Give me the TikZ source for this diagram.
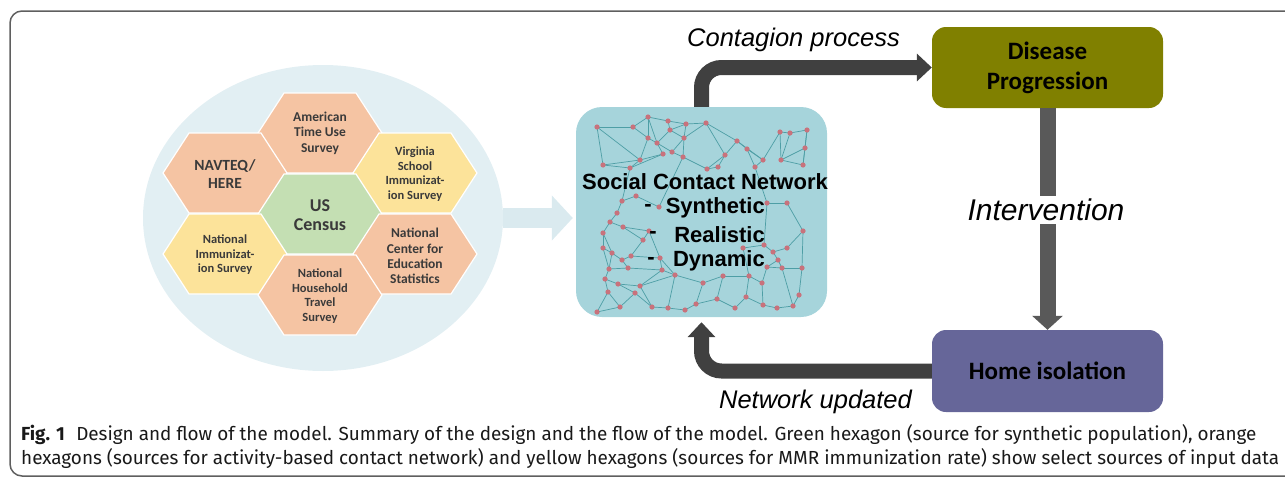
\documentclass[tikz,border=0pt]{standalone}
\usepackage{fontspec}
\setmainfont{Carlito}
\newfontfamily\arialf{Liberation Sans}
\newfontfamily\figcapfont{Fira Sans}
\usetikzlibrary{arrows.meta,shapes.geometric}
\definecolor{framec}{HTML}{5F5F5F}
\definecolor{poolc}{HTML}{E2EFF3}
\definecolor{lightarr}{HTML}{DAEAEF}
\definecolor{hexorange}{HTML}{F5C4A3}
\definecolor{hexyellow}{HTML}{FCE39A}
\definecolor{hexgreen}{HTML}{C4DFB3}
\definecolor{hexgray}{HTML}{3A3A3A}
\definecolor{netfill}{HTML}{A6D4DB}
\definecolor{edgec}{HTML}{4E9EA5}
\definecolor{dotc}{HTML}{C8727C}
\definecolor{olivec}{HTML}{808000}
\definecolor{purplec}{HTML}{666699}
\definecolor{darkarr}{HTML}{404040}
\definecolor{grayarr}{HTML}{595959}
\newcommand\figcapone{\textbf{Fig. 1}\hspace{0.6em}Design and flow of the model. Summary of the design and the flow of the model. Green hexagon (source for synthetic population), orange}
\newcommand\figcaptwo{hexagons (sources for activity-based contact network) and yellow hexagons (sources for MMR immunization rate) show select sources of input data}
\newlength\figcapwd
\tikzset{
  hextext/.style={align=center, inner sep=0pt, text=hexgray, font=\bfseries\fontsize{12.5}{14.5}\selectfont},
  hexshape/.style={draw=white, line width=1.2pt},
  flowbox/.style={rounded corners=14pt, minimum width=231pt, minimum height=81pt, align=center, inner sep=0pt, font=\bfseries\fontsize{25}{30}\selectfont, text=black},
  biglabel/.style={inner sep=0pt, font=\arialf\itshape\fontsize{25.5}{30}\selectfont},
  nettext/.style={inner sep=0pt, font=\arialf\bfseries\fontsize{22}{26}\selectfont},
  bigarrow/.style={draw=darkarr, line width=15pt, rounded corners=20pt, -{Triangle[length=15pt,width=27pt]}},
}
\begin{document}
\settowidth{\figcapwd}{\figcapfont\fontsize{10}{12}\selectfont\figcaptwo}%
\pgfmathsetmacro\figcapsz{10*1258/\figcapwd}%
\begin{tikzpicture}[x=1pt,y=-1pt]
\useasboundingbox (0,0) rectangle (1285,479);
% frame
\draw[framec, line width=1.5pt, rounded corners=12pt] (10,11) rectangle (1330,476);

% pool of data sources
\node[ellipse, fill=poolc, minimum width=360pt, minimum height=306pt, inner sep=0pt] (pool) at (323,218) {};

% hexagons
\foreach \x/\y/\c in {320/133/hexorange, 225/173/hexorange, 415/173/hexyellow, 320/214/hexgreen, 225/254/hexyellow, 415/254/hexorange, 320/295/hexorange}{
  \filldraw[hexshape, fill=\c] (\x+62,\y) -- (\x+36,\y+40) -- (\x-36,\y+40) -- (\x-62,\y) -- (\x-36,\y-40) -- (\x+36,\y-40) -- cycle;
}
\node[hextext, font=\bfseries\fontsize{13.5}{15.5}\selectfont] (atus) at (320,133) {American\\Time Use\\Survey};
\node[hextext, font=\bfseries\fontsize{15.5}{18}\selectfont] (navteq) at (225,174) {NAVTEQ/\\HERE};
\node[hextext] (vsis) at (415,174) {Virginia\\School\\Immunizat-\\ion Survey};
\node[hextext, font=\bfseries\fontsize{18}{19.5}\selectfont] (census) at (320,215) {US\\Census};
\node[hextext] (nis) at (225,255) {National\\Immunizat-\\ion Survey};
\node[hextext, font=\bfseries\fontsize{13.5}{15.3}\selectfont] (nces) at (415,256) {National\\Center for\\Education\\Statistics};
\node[hextext] (nhts) at (320,296) {National\\Household\\Travel\\Survey};

% network box
\node[rounded corners=26pt, fill=netfill, minimum width=251pt, minimum height=210pt, inner sep=0pt] (net) at (701.5,212) {};

% light arrow from pool to network
\draw[lightarr, line width=20pt, -{Triangle[length=21pt,width=44pt]}, shorten >=3pt] (pool.east) -- (pool.east -| net.west);

% network drawing
\foreach \i/\x/\y in {1/597/127,2/633/127,3/648/117,4/668/121,5/686/124,6/706/123,7/670/130,8/648/138,9/657/143,10/684/138,
 11/672/152,12/663/154,13/683/157,14/640/160,15/603/165,16/630/168,17/725/155,18/737/141,19/747/149,20/707/169,
 21/718/167,22/763/160,23/780/132,24/790/133,25/807/130,26/805/148,27/781/160,28/803/165,29/755/167,
 30/622/201,31/636/196,32/659/207,33/767/203,34/787/203,35/617/213,36/803/231,37/610/222,38/623/227,39/649/231,
 40/643/240,41/603/233,42/603/248,43/612/253,44/622/260,45/631/256,46/660/258,47/764/245,48/787/248,49/773/252,
 50/778/260,51/609/269,52/628/268,53/662/270,54/675/275,55/703/283,56/723/276,57/749/276,58/762/283,59/767/267,
 60/782/268,61/802/268,62/605/279,63/618/284,64/640/286,65/608/292,66/635/293,67/620/307,68/597/312,69/652/307,
 70/668/308,71/685/310,72/696/304,73/717/299,74/735/308,75/746/297,76/763/305,77/777/308,78/793/306,79/799/295,80/743/248}{
  \coordinate (n\i) at (\x,\y);
}
\foreach \a/\b in {1/2,1/15,2/3,2/8,3/4,3/8,4/5,4/7,5/6,5/10,6/17,7/10,7/9,8/9,8/14,9/12,9/11,10/11,10/13,12/14,12/16,13/20,11/13,
 14/15,14/16,15/16,6/18,17/18,18/19,17/21,20/21,19/22,22/23,23/24,24/25,25/26,23/27,24/27,26/28,27/28,22/29,19/29,26/27,5/7,
 16/30,30/31,30/35,31/32,35/37,37/38,37/41,38/39,38/40,39/40,41/42,40/45,42/43,43/44,44/45,45/46,39/46,46/53,44/52,43/51,51/52,
 52/53,53/54,54/55,55/56,56/57,57/58,58/59,59/60,60/61,61/36,36/34,34/33,33/47,47/49,49/48,48/36,49/50,50/60,47/80,80/57,59/50,
 51/62,62/63,63/64,64/54,62/65,65/67,63/66,66/67,67/68,65/68,66/69,69/70,70/71,71/72,72/73,73/74,74/75,75/76,76/77,77/78,78/79,
 79/61,55/72,56/73,57/75,58/76,60/78,64/69,53/64,54/70,46/54,29/33,13/32,20/17,1/14,3/9,6/10,18/22,25/28,41/43,42/51}{
  \draw[edgec, line width=0.7pt] (n\a) -- (n\b);
}
\foreach \i in {1,...,80}{\fill[dotc] (n\i) circle (2.6pt);}

\node[nettext] (nettitle) at (705,182) {Social Contact Network};
\node[nettext, anchor=east] (w1) at (765,208) {Synthetic};
\node[nettext, anchor=east] (w2) at (765,235) {Realistic};
\node[nettext, anchor=east] (w3) at (765,261) {Dynamic};
\node[nettext] (d1) at (648,208) {-};
\node[nettext] (d2) at (653,235) {-};
\node[nettext] (d3) at (651,261) {-};

% right-hand boxes
\node[flowbox, fill=olivec] (dis) at (1047.5,67.5) {Disease\\Progression};
\node[flowbox, fill=purplec, minimum height=82pt] (home) at (1047.5,371) {Home isolation};

% arrows
\draw[bigarrow] (net.north) |- (dis.west);
\draw[bigarrow, shorten >=5pt] (home.west) -| (net.south);
\draw[draw=grayarr, line width=16pt, -{Triangle[length=14pt,width=30pt]}] (dis.south) -- (home.north);
\node[biglabel, fill=white, inner sep=3pt, font=\arialf\itshape\fontsize{30}{34}\selectfont] (interv) at (1046,210) {Intervention};
\node[biglabel] (contag) at (793.5,40) {Contagion process};
\node[biglabel] (netupd) at (815.5,402) {Network updated};

% caption, sized so that its second line spans the reference width
\node[anchor=base west, inner sep=0pt, text=black!90, font=\figcapfont\fontsize{\figcapsz}{20}\selectfont] (cap1) at (21,440) {\figcapone};
\node[anchor=base west, inner sep=0pt, text=black!90, font=\figcapfont\fontsize{\figcapsz}{20}\selectfont] (cap2) at (21,464) {\figcaptwo};
\end{tikzpicture}
\end{document}
